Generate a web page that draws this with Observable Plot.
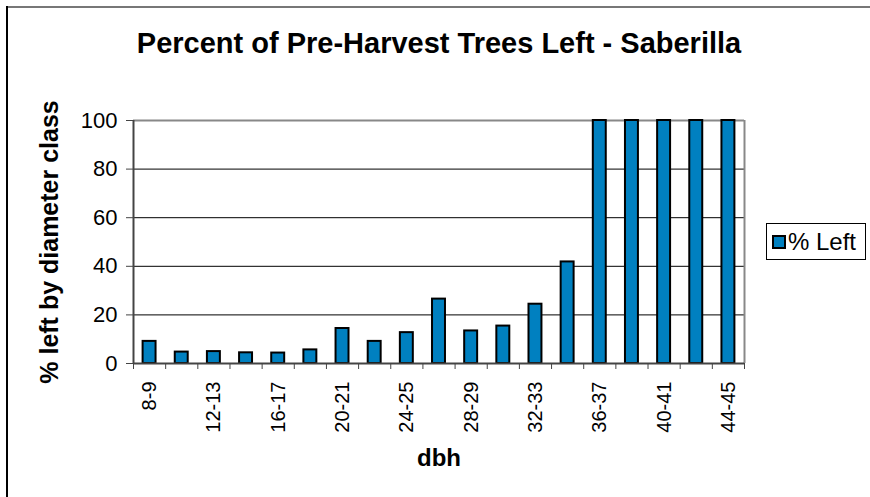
<!DOCTYPE html>
<html>
<head>
<meta charset="utf-8">
<script src="https://cdn.jsdelivr.net/npm/d3@7"></script>
<script src="https://cdn.jsdelivr.net/npm/@observablehq/plot@0.6"></script>
<style>
  html, body { margin: 0; padding: 0; background: #fff; }
  #wrap { position: relative; width: 870px; height: 497px; overflow: hidden; font-family: "Liberation Sans", Arial, sans-serif; }
  #frameTop { position: absolute; left: 6px; top: 6px; width: 864px; height: 0; border-top: 2px solid #777; }
  #frameLeft { position: absolute; left: 6px; top: 6px; width: 0; height: 491px; border-left: 2px solid #000; }
  #legend { position: absolute; left: 766px; top: 223px; width: 100px; height: 37px; border: 1px solid #000; box-sizing: border-box; display: flex; align-items: center; font-size: 24px; color: #000; }
  #legend .sw { width: 10px; height: 10px; background: #0080c0; border: 2px solid #000; margin-left: 5px; margin-right: 2px; }
</style>
</head>
<body>
<div id="wrap">
  <div id="chart"></div>
  <div id="frameTop"></div>
  <div id="frameLeft"></div>
  <div id="legend"><div class="sw"></div><span id="legendText"></span></div>
</div>
<script>
const title = "Percent of Pre-Harvest Trees Left - Saberilla";
const xLabel = "dbh";
const yLabel = "% left by diameter class";
const seriesName = "% Left";
const categories = ["8-9","10-11","12-13","14-15","16-17","18-19","20-21","22-23","24-25","26-27","28-29","30-31","32-33","34-35","36-37","38-39","40-41","42-43","44-45"];
const values = [9.1, 4.7, 4.9, 4.4, 4.3, 5.6, 14.4, 9.1, 12.7, 26.5, 13.4, 15.4, 24.4, 41.8, 100, 100, 100, 100, 100];
const yTicks = [0, 20, 40, 60, 80, 100];
const gridValues = [20, 40, 60, 80];

const data = categories.map((c, i) => ({i, c, v: values[i]}));
const n = categories.length;
const labelTicks = d3.range(0, n, 2).map(i => i + 0.5);
const font = "Liberation Sans, Arial, sans-serif";

document.getElementById("legendText").textContent = seriesName;

const chart = Plot.plot({
  width: 870,
  height: 497,
  marginLeft: 133,
  marginRight: 126,
  marginTop: 120,
  marginBottom: 134,
  style: {fontFamily: font, background: "transparent", color: "#000"},
  x: {type: "linear", domain: [0, n]},
  y: {domain: [0, 100]},
  marks: [
    Plot.ruleY(gridValues, {stroke: "#000", strokeWidth: 1}),
    Plot.ruleY([100], {stroke: "#888", strokeWidth: 2}),
    Plot.ruleX([n], {stroke: "#888", strokeWidth: 2}),
    Plot.rectY(data, {x1: "i", x2: d => d.i + 1, y: "v", fill: "#0080c0", stroke: "#000", strokeWidth: 2, insetLeft: 9.6, insetRight: 9.6}),
    Plot.ruleX([0], {stroke: "#444", strokeWidth: 2}),
    Plot.ruleY([0], {stroke: "#444", strokeWidth: 2}),
    Plot.axisY({ticks: yTicks, tickSize: 7, tickPadding: 9, fontSize: 22, label: null, stroke: "#444"}),
    Plot.axisX({ticks: d3.range(0, n + 1), tickFormat: () => "", tickSize: 6, label: null, stroke: "#444"}),
    Plot.axisX({ticks: labelTicks, tickFormat: t => categories[Math.floor(t)], tickSize: 0, tickRotate: -90, tickPadding: 18, fontSize: 20, label: null}),
    Plot.text([title], {text: d => d, frameAnchor: "top", lineAnchor: "middle", dy: -77, fontSize: 29, fontWeight: "bold", fill: "#000"}),
    Plot.text([xLabel], {text: d => d, frameAnchor: "bottom", lineAnchor: "middle", dy: 95, fontSize: 24, fontWeight: "bold", fill: "#000"}),
    Plot.text([yLabel], {text: d => d, frameAnchor: "left", textAnchor: "middle", lineAnchor: "middle", dx: -84, rotate: -90, fontSize: 25, fontWeight: "bold", fill: "#000"})
  ]
});
document.getElementById("chart").appendChild(chart);
</script>
</body>
</html>
